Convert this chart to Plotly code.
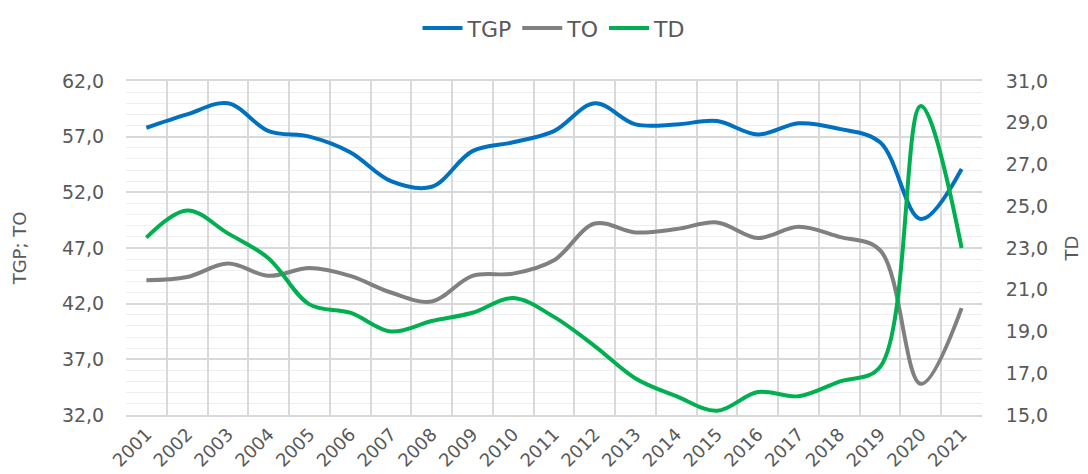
import plotly.graph_objects as go

years = [str(y) for y in range(2001, 2022)]
tgp = [57.8, 59.0, 60.0, 57.5, 57.0, 55.6, 53.0, 52.5, 55.7, 56.5, 57.5,
       60.0, 58.1, 58.1, 58.4, 57.2, 58.2, 57.7, 56.5, 49.6, 54.1]
to = [44.1, 44.4, 45.6, 44.5, 45.2, 44.5, 43.0, 42.2, 44.5, 44.7, 45.9,
      49.2, 48.4, 48.7, 49.3, 47.9, 48.9, 48.0, 46.8, 34.8, 41.6]
td = [23.5, 24.8, 23.7, 22.5, 20.3, 19.9, 19.0, 19.5, 19.9, 20.6, 19.7,
      18.3, 16.75, 15.9, 15.2, 16.1, 15.9, 16.6, 17.3, 29.8, 23.0]

FONT = "DejaVu Sans"
TXT = "#595959"

fig = go.Figure()
fig.add_trace(go.Scatter(x=years, y=tgp, name="TGP", mode="lines",
                         line=dict(color="#0070C0", width=4, shape="spline")))
fig.add_trace(go.Scatter(x=years, y=to, name="TO", mode="lines",
                         line=dict(color="#808080", width=4, shape="spline")))
fig.add_trace(go.Scatter(x=years, y=td, name="TD", mode="lines", yaxis="y2",
                         line=dict(color="#00B050", width=4, shape="spline")))

fig.update_layout(
    width=1088, height=474,
    margin=dict(l=118, r=114, t=73, b=67, autoexpand=False),
    paper_bgcolor="white", plot_bgcolor="white",
    separators=",.",
    font=dict(family=FONT, size=19, color=TXT),
    showlegend=True,
    legend=dict(orientation="h", x=0.5, xanchor="center", y=1.158, yanchor="middle",
                font=dict(size=22, color=TXT), traceorder="normal",
                itemwidth=40, tracegroupgap=0),
    xaxis=dict(type="category", tickson="boundaries", showgrid=True,
               gridcolor="#d9d9d9", gridwidth=1.5, tickangle=-45,
               showline=True, linecolor="#d9d9d9", linewidth=1.5, mirror=True,
               ticks="", tickfont=dict(size=18, color=TXT), range=[-0.5, 20.5]),
    yaxis=dict(range=[32, 62], dtick=5, tick0=32, tickformat=".1f",
               showgrid=True, gridcolor="#d9d9d9", gridwidth=1.5,
               minor=dict(dtick=1, showgrid=True, gridcolor="#efefef", gridwidth=1),
               ticks="outside", ticklen=17, tickcolor="rgba(0,0,0,0)",
               tickfont=dict(size=19, color=TXT), zeroline=False,
               title=dict(text="TGP; TO", font=dict(size=18, color=TXT), standoff=30)),
    yaxis2=dict(range=[15, 31], dtick=2, tick0=15, tickformat=".1f",
                overlaying="y", side="right", showgrid=False, zeroline=False,
                ticks="outside", ticklen=19, tickcolor="rgba(0,0,0,0)",
                tickfont=dict(size=19, color=TXT),
                title=dict(text="TD", font=dict(size=18, color=TXT), standoff=18)),
)

fig.write_html("out.html")
